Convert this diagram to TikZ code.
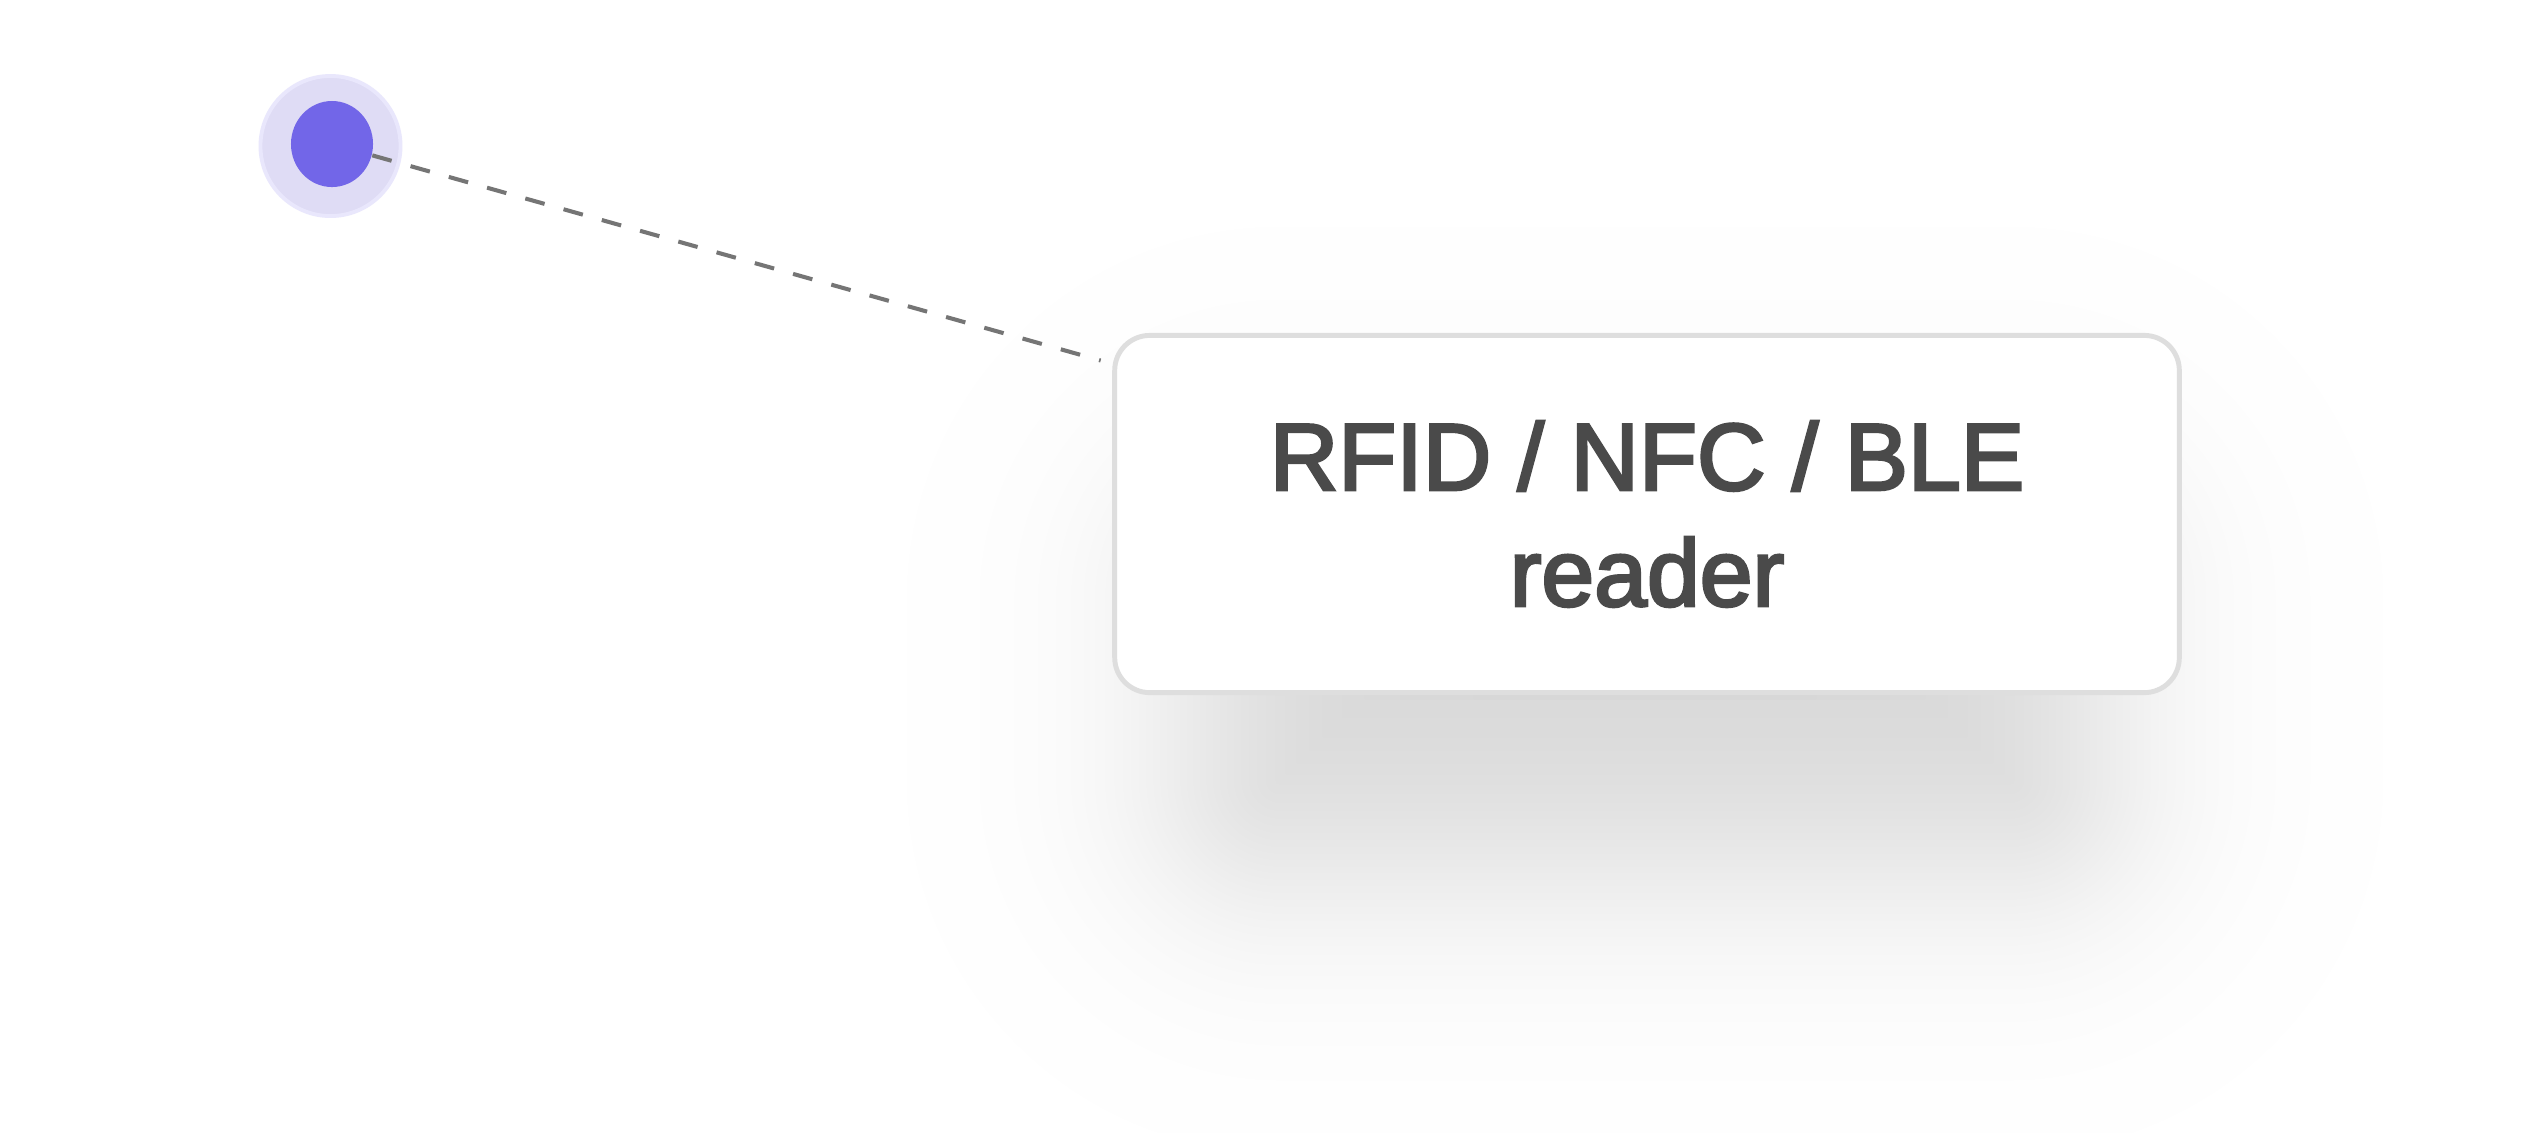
\documentclass[tikz,border=0pt]{standalone}
\usepackage{fontspec}
\setmainfont[FakeBold=3]{Liberation Sans}
\usetikzlibrary{shapes.geometric}

\definecolor{ringfill}{HTML}{DFDCF5}
\definecolor{ringedge}{HTML}{E9E7FC}
\definecolor{dotfill}{HTML}{7266E8}
\definecolor{boxedge}{HTML}{DEDEDE}
\definecolor{labeltext}{HTML}{4A4A4A}
\definecolor{linkgray}{HTML}{757575}

\tikzset{
    readerbox/.style={draw=boxedge, line width=1.4pt, fill=white, rounded corners=0.35cm,
        minimum width=10.64cm, minimum height=3.57cm, align=center, text=labeltext,
        font=\fontsize{27pt}{33pt}\selectfont},
    halo/.style={circle, draw=ringedge, line width=1.1pt, fill=ringfill, minimum size=1.4cm, inner sep=0pt},
    dot/.style={ellipse, fill=dotfill, minimum width=0.82cm, minimum height=0.86cm, inner sep=0pt},
    link/.style={draw=linkgray, line width=1.15pt, dash pattern=on 5.7pt off 5.6pt}
}

\begin{document}
\begin{tikzpicture}[x=0.01cm, y=-0.01cm]
    \useasboundingbox[fill=white] (0,0) rectangle (2528,1132);

    % Soft shadow under the box (40 layers, roughly gaussian spread)
    \foreach \i in {1,...,40} {
        \pgfmathsetmacro\p{(\i-0.5)/40}
        \pgfmathsetmacro\q{ln(\p/(1-\p))/1.85}
        \pgfmathsetmacro\dx{120*\q}
        \pgfmathsetmacro\dy{max(120*\q,-170)}
        \pgfmathsetmacro\rr{max(90+\dy,1)}
        \fill[black, opacity=0.0029, rounded corners=\rr*0.01cm]
            (1190-\dx, 510-\dy) rectangle (2100+\dx, 870+\dy);
    }

    % Reader box
    \node[readerbox] (reader) at (1647,514) {RFID / NFC / BLE\\reader};

    % Tag
    \node[halo] (halo) at (330.5,146) {};
    \node[dot] (dot) at (332,144) {};

    % Link
    \draw[link, shorten >=0.12cm] (dot) -- (reader);
\end{tikzpicture}
\end{document}
